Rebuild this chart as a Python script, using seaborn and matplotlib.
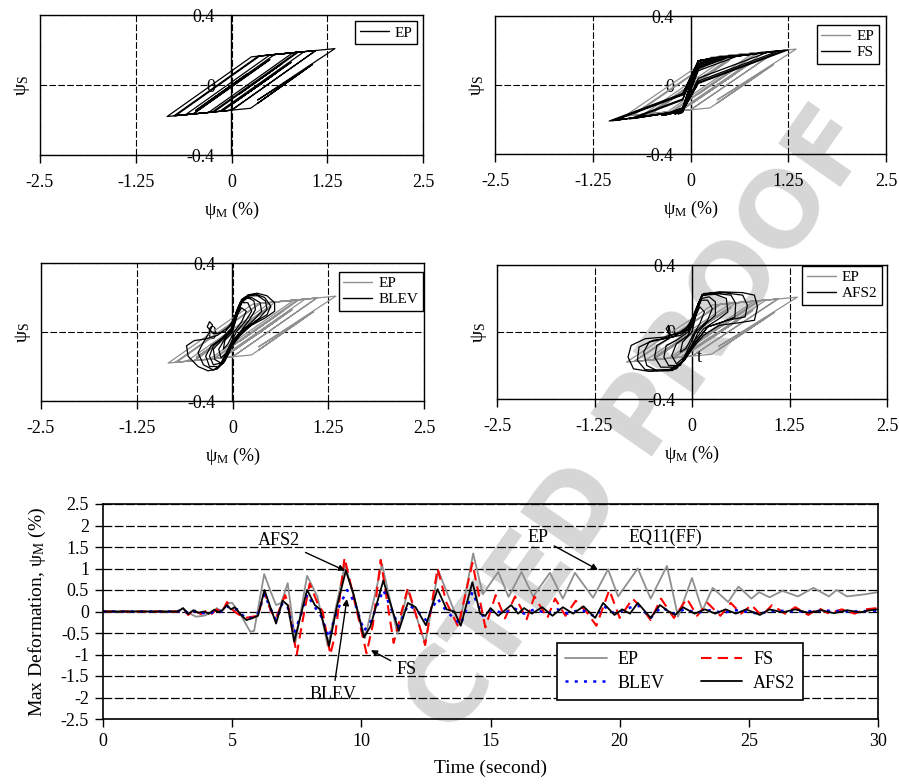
import matplotlib
matplotlib.use("Agg")
import matplotlib.pyplot as plt
import seaborn as sns
from matplotlib.ticker import FuncFormatter
from matplotlib.lines import Line2D

# ---------------- hysteresis data (psi_M %, psi_S) ----------------
ep_m = [0, 0.2, -0.47, 0.563, 0.87, 0.1, 0.66, -0.23, -0.73, 0.37, 0.85, -0.253, -0.84, 0.261,
        1.1, 0.0, -0.6, 0.502, 1.1, 0.0, -0.5, 0.5, -0.5, -0.75, 0.35, 0.95, -0.152, -0.3, 0.8,
        1.35, 0.34, 0.92, 0.34, 0.92, 1.06, 0.249, -0.12, 0.78, 0.0, 0.55, 0.22, 0.58, 0.3, 0.45]
ep_s = [0, 0.062, -0.146, 0.174, 0.187, -0.052, 0.122, -0.154, -0.175, 0.166, 0.187, -0.155, -0.180, 0.161,
        0.197, -0.144, -0.170, 0.172, 0.197, -0.144, -0.1655, 0.1445, -0.1655, -0.176, 0.165, 0.191, -0.150, -0.157, 0.184,
        0.208, -0.086, 0.075, -0.105, 0.075, 0.118, -0.133, -0.149, 0.13, -0.112, 0.058, -0.044, 0.068, -0.019, 0.028]

fs_m = [0, 0.1, 0.45, 0.1, -0.1, -0.15, -0.1, 0.1, 0.38, 0.1, -0.1, -1.0, -0.1, 0.1, 0.65, 0.1, -0.1,
        -1.04, -0.1, 0.1, 1.25, 0.1, -0.1, -0.97, -0.1, 0.1, 1.2, 0.1, -0.1, -0.73, -0.1, 0.1, 0.55, 0.1,
        -0.1, -0.78, -0.1, 0.1, 1.0, 0.1, -0.1, -0.35, -0.1, 0.1, 1.13, 0.1, -0.1, -0.37, -0.1, 0.1, 0.35,
        0.1, -0.1, -0.16, -0.1, 0.1, 0.5, 0.1, -0.1, -0.33, -0.1, 0.1, 0.3, 0.1, -0.1, -0.2, -0.1, 0.0]
fs_s = [0, 0.14, 0.166, 0.107, -0.15, -0.167, -0.159, 0.14, 0.163, 0.115, -0.15, -0.207, -0.054, 0.14, 0.176, 0.083, -0.15,
        -0.209, -0.049, 0.14, 0.204, 0.009, -0.15, -0.206, -0.058, 0.14, 0.201, 0.014, -0.15, -0.194, -0.087, 0.14, 0.171, 0.095,
        -0.15, -0.197, -0.081, 0.14, 0.192, 0.039, -0.15, -0.176, -0.134, 0.14, 0.198, 0.023, -0.15, -0.177, -0.131, 0.14, 0.161,
        0.119, -0.15, -0.1675, -0.157, 0.14, 0.1685, 0.10, -0.15, -0.1755, -0.136, 0.14, 0.159, 0.125, -0.15, -0.169, -0.152, 0.0]

blev_m = [0, 0.05, 0.12, 0.2, 0.28, 0.3, 0.22, 0.1, 0.0,
          -0.08, -0.15, -0.25, -0.3, -0.25, -0.12, 0.0,
          0.06, 0.12, 0.2, 0.32, 0.45, 0.55, 0.55, 0.42, 0.25, 0.1, 0.0,
          -0.1, -0.2, -0.32, -0.45, -0.58, -0.6, -0.5, -0.35, -0.2, -0.05,
          0.05, 0.1, 0.2, 0.33, 0.43, 0.45, 0.35, 0.2, 0.05,
          -0.05, -0.12, -0.25, -0.38, -0.45, -0.38, -0.3, -0.26, -0.3, -0.33, -0.25, -0.1, 0.0,
          0.08, 0.15, 0.3, 0.42, 0.5, 0.45, 0.3, 0.12, 0.0,
          -0.08, -0.18, -0.3, -0.35, -0.28, -0.15, -0.02,
          0.05, 0.12, 0.25, 0.36, 0.38, 0.28, 0.1, 0.0,
          -0.06, -0.15, -0.23, -0.25, -0.15, -0.02,
          0.05, 0.12, 0.2, 0.25, 0.18, 0.05, -0.02,
          -0.08, -0.15, -0.18, -0.1, 0.0,
          0.06, 0.12, 0.18, 0.12, 0.02,
          -0.06, -0.12, -0.1, 0.0]
blev_s = [0, 0.08, 0.17, 0.2, 0.18, 0.13, 0.07, 0.0, -0.07,
          -0.12, -0.18, -0.19, -0.14, -0.08, -0.03, 0.02,
          0.1, 0.18, 0.215, 0.225, 0.21, 0.17, 0.12, 0.08, 0.04, -0.02, -0.08,
          -0.17, -0.215, -0.225, -0.2, -0.14, -0.08, -0.05, -0.04, -0.02, 0.03,
          0.1, 0.17, 0.21, 0.21, 0.18, 0.13, 0.08, 0.03, -0.04,
          -0.1, -0.18, -0.22, -0.19, -0.12, -0.06, 0.0, 0.04, 0.06, 0.03, -0.01, 0.0, 0.05,
          0.15, 0.2, 0.22, 0.2, 0.15, 0.1, 0.06, 0.0, -0.06,
          -0.14, -0.2, -0.2, -0.14, -0.08, -0.04, 0.02,
          0.12, 0.19, 0.2, 0.17, 0.12, 0.07, 0.0, -0.05,
          -0.13, -0.18, -0.16, -0.1, -0.05, 0.0,
          0.1, 0.17, 0.17, 0.12, 0.07, 0.0, -0.06,
          -0.12, -0.15, -0.1, -0.04, 0.02,
          0.1, 0.14, 0.12, 0.06, 0.0,
          -0.07, -0.1, -0.05, 0.0]

afs2_m = [0, 0.06, 0.12, 0.22, 0.3, 0.3, 0.2, 0.08, 0.0,
          -0.08, -0.15, -0.3, -0.36, -0.33, -0.2, -0.05,
          0.06, 0.13, 0.3, 0.5, 0.56, 0.55, 0.4, 0.2, 0.05,
          -0.08, -0.2, -0.45, -0.58, -0.62, -0.55, -0.35, -0.15, 0.0,
          0.07, 0.13, 0.35, 0.65, 0.8, 0.84, 0.8, 0.6, 0.35, 0.15, 0.02,
          -0.1, -0.25, -0.55, -0.75, -0.82, -0.78, -0.6, -0.35, -0.15, 0.0,
          0.08, 0.15, 0.4, 0.65, 0.71, 0.68, 0.45, 0.2, 0.03,
          -0.1, -0.3, -0.6, -0.7, -0.68, -0.5, -0.25, -0.05,
          0.06, 0.13, 0.3, 0.44, 0.46, 0.35, 0.15, 0.02,
          -0.08, -0.2, -0.4, -0.48, -0.45, -0.3, -0.28, -0.3, -0.33, -0.28, -0.1,
          0.05, 0.12, 0.2, 0.26, 0.2, 0.05, -0.03,
          -0.1, -0.2, -0.26, -0.2, -0.05,
          0.05, 0.1, 0.16, 0.1, 0.0,
          -0.08, -0.15, -0.12, 0.0]
afs2_s = [0, 0.12, 0.2, 0.21, 0.18, 0.1, 0.06, 0.0, -0.08,
          -0.14, -0.2, -0.2, -0.15, -0.08, -0.05, 0.0,
          0.14, 0.22, 0.23, 0.22, 0.17, 0.09, 0.06, 0.03, -0.06,
          -0.15, -0.22, -0.23, -0.2, -0.12, -0.06, -0.04, -0.02, 0.03,
          0.15, 0.225, 0.24, 0.235, 0.22, 0.15, 0.07, 0.055, 0.04, -0.02, -0.09,
          -0.17, -0.23, -0.235, -0.22, -0.15, -0.08, -0.04, -0.03, 0.0, 0.05,
          0.17, 0.23, 0.235, 0.22, 0.16, 0.09, 0.07, 0.03, -0.07,
          -0.17, -0.23, -0.225, -0.17, -0.09, -0.05, -0.03, 0.02,
          0.15, 0.22, 0.225, 0.2, 0.12, 0.08, 0.02, -0.06,
          -0.15, -0.21, -0.21, -0.15, -0.08, -0.04, 0.0, 0.04, 0.02, -0.02, 0.0,
          0.12, 0.19, 0.19, 0.14, 0.07, 0.0, -0.08,
          -0.15, -0.19, -0.14, -0.07, -0.02,
          0.1, 0.15, 0.12, 0.05, -0.03,
          -0.1, -0.12, -0.06, 0.0]

# ---------------- time-history data (s, psi_M %) ----------------
t_ep = [0, 2.8, 3.1, 3.3, 3.6, 3.9, 4.2, 4.4, 4.6, 4.85, 5.0, 5.3, 5.7, 5.85, 6.24, 6.5, 6.7, 6.9,
        7.15, 7.45, 7.9, 8.3, 8.7, 9.37, 10.14, 10.8, 11.4, 11.8, 12.47, 12.98, 13.8, 14.33, 14.7,
        15.3, 15.7, 16.2, 16.65, 17.3, 17.8, 18.27, 18.97, 19.55, 19.94, 20.7, 21.2, 21.83, 22.26,
        22.8, 23.2, 23.6, 24.2, 24.6, 25.1, 25.4, 25.8, 26.3, 26.9, 27.5, 28.1, 28.4, 28.8, 29.5, 30]
y_ep = [0, 0, 0.06, -0.03, -0.12, -0.1, -0.03, 0.08, 0.0, 0.2, 0.2, -0.05, -0.47, -0.45, 0.87, 0.45, 0.15, 0.2,
        0.66, -0.72, 0.83, 0.35, -0.8, 1.1, -0.62, 1.1, -0.52, 0.5, -0.75, 0.95, -0.3, 1.35, 0.4,
        0.92, 0.34, 0.92, 0.35, 0.9, 0.3, 0.9, 0.32, 0.98, 0.35, 1.0, 0.3, 1.06, -0.12,
        0.78, 0.02, 0.55, 0.22, 0.58, 0.3, 0.45, 0.33, 0.48, 0.35, 0.55, 0.35, 0.5, 0.35, 0.4, 0.45]

t_fs = [0, 2.9, 3.1, 3.3, 3.5, 3.8, 4.0, 4.2, 4.4, 4.6, 4.8, 5.0, 5.2, 5.5, 5.8, 6.0, 6.25, 6.5, 6.7,
        7.05, 7.15, 7.5, 7.7, 8.0, 8.3, 8.5, 8.8, 9.0, 9.35, 9.6, 10.2, 10.45, 10.75, 11.25, 11.8,
        12.47, 12.95, 13.3, 13.75, 14.3, 14.8, 15.2, 15.56, 15.95, 16.4, 16.7, 17.2, 17.5, 17.9,
        18.3, 18.7, 19.1, 19.6, 20.0, 20.5, 20.9, 21.2, 21.6, 22.1, 22.6, 23.0, 23.4, 23.9, 24.3,
        24.7, 25.1, 25.5, 25.9, 26.4, 26.8, 27.3, 27.7, 28.1, 28.6, 29.1, 29.5, 30]
y_fs = [0, 0, 0.06, -0.08, 0.03, -0.06, 0.02, -0.06, 0.05, -0.02, 0.22, 0.05, -0.05, -0.15, -0.12, -0.1, 0.45, 0.0, -0.15,
        0.38, 0.2, -1.0, -0.3, 0.65, 0.2, 0.0, -1.0, -0.5, 1.25, 0.6, -0.97, -0.3, 1.2, -0.73, 0.55,
        -0.78, 1.0, 0.2, -0.35, 1.13, -0.37, 0.38, -0.16, 0.35, -0.18, 0.35, -0.15, 0.3, -0.1,
        0.25, 0.0, -0.33, 0.5, -0.15, 0.3, 0.05, -0.2, 0.3, -0.15, 0.3, -0.1, 0.2, -0.1, 0.2,
        -0.05, 0.15, -0.1, 0.15, -0.05, 0.1, -0.08, 0.08, -0.05, 0.05, -0.05, 0.05, 0.08]

t_blev = [0, 2.9, 3.1, 3.3, 3.6, 3.9, 4.2, 4.4, 4.6, 4.8, 5.0, 5.2, 5.5, 5.8, 6.0, 6.25, 6.5, 6.7, 6.95,
          7.15, 7.4, 7.65, 7.9, 8.2, 8.4, 8.75, 9.05, 9.45, 9.75, 10.1, 10.35, 10.85, 11.45, 11.8, 12.1,
          12.5, 12.95, 13.3, 13.85, 14.3, 14.7, 15.1, 15.5, 15.9, 16.3, 16.7, 17.2, 17.6, 18.0, 18.5,
          19.05, 19.4, 19.8, 20.2, 20.7, 21.2, 21.6, 22.1, 22.5, 23.0, 23.5, 24.0, 24.5, 25.4, 26.0,
          27.0, 28.0, 29.0, 30]
y_blev = [0, 0, 0.05, -0.05, 0.02, -0.04, -0.03, 0.04, 0.0, 0.12, 0.05, 0.05, -0.15, -0.15, -0.05, 0.4, 0.05, -0.2, 0.2,
          0.1, -0.5, -0.1, 0.4, 0.1, -0.05, -0.6, 0.0, 0.5, 0.2, -0.45, -0.25, 0.5, -0.35, 0.15, 0.05,
          -0.2, 0.3, 0.0, -0.3, 0.45, -0.1, 0.05, -0.05, 0.08, -0.05, 0.05, -0.05, 0.05, -0.05, 0.05,
          -0.12, 0.12, -0.05, 0.05, 0.15, -0.15, 0.1, -0.05, 0.05, -0.03, 0.03, -0.03, 0.03, -0.05, 0.02,
          0.0, 0.02, 0.0, 0.02]

t_afs2 = [0, 2.9, 3.1, 3.3, 3.5, 3.7, 3.9, 4.1, 4.3, 4.5, 4.65, 4.8, 4.95, 5.1, 5.3, 5.55, 5.8, 6.0,
          6.25, 6.45, 6.7, 6.95, 7.15, 7.4, 7.65, 7.9, 8.2, 8.4, 8.75, 9.05, 9.4, 9.7, 10.1, 10.35,
          10.85, 11.45, 11.8, 12.1, 12.5, 12.95, 13.3, 13.6, 13.85, 14.3, 14.6, 14.8, 15.0, 15.3,
          15.8, 16.07, 16.3, 16.6, 17.0, 17.4, 17.8, 18.2, 18.6, 19.05, 19.36, 19.8, 20.1, 20.4, 20.7,
          21.2, 21.56, 21.9, 22.15, 22.45, 22.9, 23.3, 23.7, 24.1, 24.5, 24.9, 25.43, 25.8, 26.3,
          26.8, 27.3, 27.8, 28.3, 28.8, 29.3, 29.7, 30]
y_afs2 = [0, 0, 0.08, -0.06, 0.03, -0.03, 0.0, -0.05, 0.04, -0.02, 0.05, 0.15, 0.05, 0.1, -0.05, -0.2, -0.15, -0.1,
          0.5, 0.15, -0.28, 0.25, 0.15, -0.7, -0.1, 0.5, 0.15, 0.05, -0.8, 0.1, 0.95, 0.4, -0.6, -0.35,
          0.72, -0.45, 0.2, 0.1, -0.32, 0.52, 0.05, 0.0, -0.33, 0.68, -0.05, -0.1, 0.08, -0.1,
          0.15, -0.05, 0.08, -0.05, 0.1, -0.1, 0.1, -0.05, 0.12, -0.15, 0.2, -0.08, 0.05, -0.05, 0.2,
          -0.15, 0.15, 0.0, -0.08, 0.1, -0.05, 0.05, -0.05, 0.05, -0.05, 0.05, -0.08, 0.05, -0.02,
          0.05, -0.03, 0.03, -0.04, 0.03, -0.02, 0.03, 0.05]

hyst_xticks = [-2.5, -1.25, 0, 1.25, 2.5]
hyst_yticks = [-0.4, 0, 0.4]
th_yticks = [-2.5, -2, -1.5, -1, -0.5, 0, 0.5, 1, 1.5, 2, 2.5]
th_xticks = [0, 5, 10, 15, 20, 25, 30]

# ---------------- style ----------------
sns.set_theme(style="white")
plt.rcParams.update({
    "font.family": ["Liberation Serif", "DejaVu Serif"],
    "mathtext.fontset": "custom",
    "mathtext.rm": "Liberation Serif",
    "mathtext.it": "Liberation Serif:italic",
    "axes.unicode_minus": False,
    "axes.edgecolor": "black",
    "text.color": "black",
    "axes.labelcolor": "black",
    "xtick.color": "black",
    "ytick.color": "black",
})

W, H = 899, 784
fig = plt.figure(figsize=(W / 100, H / 100), dpi=100)
fmt = FuncFormatter(lambda v, p: f"{v:g}")

GRAY = "#8f8f8f"


def px_axes(x0, y0, x1, y1):
    return fig.add_axes([x0 / W, 1 - y1 / H, (x1 - x0) / W, (y1 - y0) / H])


def setup_hyst(ax):
    ax.patch.set_visible(False)
    ax.set_xlim(-2.5, 2.5)
    ax.set_ylim(-0.4, 0.4)
    ax.set_xticks(hyst_xticks)
    ax.set_yticks(hyst_yticks)
    ax.xaxis.set_major_formatter(fmt)
    ax.tick_params(axis="y", left=False, labelleft=False)
    ax.tick_params(axis="x", bottom=True, direction="out", length=6, width=1,
                   pad=8, labelsize=13)
    for s in ax.spines.values():
        s.set_visible(True)
        s.set_color("black")
        s.set_linewidth(1.0)
    ax.grid(True, color="black", lw=0.8, ls=(0, (6, 2)))
    sec = ax.secondary_yaxis(0.5)
    sec.set_alignment("left")
    sec.set_yticks(hyst_yticks)
    sec.yaxis.set_major_formatter(fmt)
    sec.tick_params(length=0, pad=12, labelsize=13)
    sec.spines["left"].set_linewidth(1.0)
    sec.spines["left"].set_color("black")
    ax.set_xlabel("ψ$_{\\mathrm{M}}$ (%)", fontsize=13, labelpad=6)
    ax.set_ylabel("ψ$_{\\mathrm{S}}$", fontsize=14, labelpad=6)


def hyst_legend(ax, items, anchor):
    handles = [Line2D([], [], color=c, lw=1.0) for c, _ in items]
    labels = [l for _, l in items]
    leg = ax.legend(handles, labels, loc="upper right", bbox_to_anchor=anchor,
                    fontsize=11, frameon=True, fancybox=False, edgecolor="black",
                    framealpha=1, borderpad=0.3, handlelength=1.9, handletextpad=0.4,
                    labelspacing=0.15, borderaxespad=0)
    leg.get_frame().set_linewidth(1.0)


# watermark of the proof page (visible part)
fig.text(0.714, 0.462, "CTED PROOF", rotation=55, fontsize=74, color="#d6d6d6",
         ha="center", va="center", fontweight="bold", family="DejaVu Sans",
         rotation_mode="anchor", zorder=-5)

# --- top-left: EP
ax1 = px_axes(40, 15, 423, 155)
setup_hyst(ax1)
sns.lineplot(x=ep_m, y=ep_s, sort=False, estimator=None, color="black", lw=0.9, ax=ax1)
hyst_legend(ax1, [("black", "EP")], (0.985, 0.955))

# --- top-right: EP + FS
ax2 = px_axes(495, 16, 886, 154)
setup_hyst(ax2)
sns.lineplot(x=ep_m, y=ep_s, sort=False, estimator=None, color=GRAY, lw=0.9, ax=ax2)
sns.lineplot(x=fs_m, y=fs_s, sort=False, estimator=None, color="black", lw=0.9, ax=ax2)
hyst_legend(ax2, [(GRAY, "EP"), ("black", "FS")], (0.982, 0.935))

# --- middle-left: EP + BLEV
ax3 = px_axes(41, 263, 424, 401)
setup_hyst(ax3)
sns.lineplot(x=ep_m, y=ep_s, sort=False, estimator=None, color=GRAY, lw=0.9, ax=ax3)
sns.lineplot(x=blev_m, y=blev_s, sort=False, estimator=None, color="black", lw=0.9, ax=ax3)
hyst_legend(ax3, [(GRAY, "EP"), ("black", "BLEV")], (0.997, 0.935))

# --- middle-right: EP + AFS2
ax4 = px_axes(497, 265, 887, 399)
setup_hyst(ax4)
sns.lineplot(x=ep_m, y=ep_s, sort=False, estimator=None, color=GRAY, lw=0.9, ax=ax4)
sns.lineplot(x=afs2_m, y=afs2_s, sort=False, estimator=None, color="black", lw=0.9, ax=ax4)
hyst_legend(ax4, [(GRAY, "EP"), ("black", "AFS2")], (0.987, 0.995))
ax4.text(0.10, -0.155, "t", fontsize=13, ha="center", va="center")

# --- bottom: time history
ax5 = px_axes(103, 504, 878, 719)
ax5.patch.set_visible(False)
sns.lineplot(x=t_ep, y=y_ep, sort=False, estimator=None, color=GRAY, lw=1.3, ax=ax5)
sns.lineplot(x=t_fs, y=y_fs, sort=False, estimator=None, color="#ff0000", lw=1.5, ax=ax5)
ax5.lines[-1].set_linestyle((0, (5, 3)))
sns.lineplot(x=t_blev, y=y_blev, sort=False, estimator=None, color="#0000ff", lw=1.8, ax=ax5)
ax5.lines[-1].set_linestyle((0, (1.2, 2.5)))
sns.lineplot(x=t_afs2, y=y_afs2, sort=False, estimator=None, color="black", lw=1.3, ax=ax5)

ax5.set_xlim(0, 30)
ax5.set_ylim(-2.5, 2.5)
ax5.set_xticks(th_xticks)
ax5.set_yticks(th_yticks)
ax5.xaxis.set_major_formatter(fmt)
ax5.yaxis.set_major_formatter(fmt)
ax5.tick_params(axis="both", direction="out", length=6, width=1, labelsize=13, pad=4,
                bottom=True, left=True)
for s in ax5.spines.values():
    s.set_visible(True)
    s.set_color("black")
    s.set_linewidth(1.2)
ax5.grid(True, axis="y", color="black", lw=0.9, ls=(0, (7, 2)))
ax5.set_xlabel("Time (second)", fontsize=14, labelpad=7)
ax5.set_ylabel("Max Deformation, ψ$_{\\mathrm{M}}$ (%)", fontsize=14, labelpad=9)

arrow = dict(arrowstyle="-|>", color="black", lw=1.0, mutation_scale=9, shrinkA=2, shrinkB=0)
ax5.annotate("AFS2", xy=(9.37, 0.95), xytext=(6.8, 1.66), fontsize=13, ha="center", va="center",
             arrowprops=arrow)
ax5.annotate("BLEV", xy=(9.44, 0.29), xytext=(8.9, -1.94), fontsize=13, ha="center", va="center",
             arrowprops=arrow)
ax5.annotate("FS", xy=(10.37, -0.9), xytext=(11.75, -1.34), fontsize=13, ha="center", va="center",
             arrowprops=arrow)
ax5.annotate("EP", xy=(19.16, 0.97), xytext=(16.84, 1.73), fontsize=13, ha="center", va="center",
             arrowprops=arrow)
ax5.text(21.75, 1.73, "EQ11(FF)", fontsize=13, ha="center", va="center")

th_handles = [Line2D([], [], color=GRAY, lw=1.3),
              Line2D([], [], color="#0000ff", lw=1.8, ls=(0, (1.2, 2.5))),
              Line2D([], [], color="#ff0000", lw=1.5, ls=(0, (5, 3))),
              Line2D([], [], color="black", lw=1.3)]
leg = ax5.legend(th_handles, ["EP", "BLEV", "FS", "AFS2"], ncol=2, loc="upper left",
                 bbox_to_anchor=(0.586, 0.353), fontsize=13, frameon=True, fancybox=False,
                 edgecolor="black", framealpha=1, borderpad=0.45, handlelength=2.3,
                 handletextpad=0.6, columnspacing=2.0, labelspacing=0.35, borderaxespad=0)
leg.get_frame().set_linewidth(1.2)

fig.savefig("out.png", dpi=100)
